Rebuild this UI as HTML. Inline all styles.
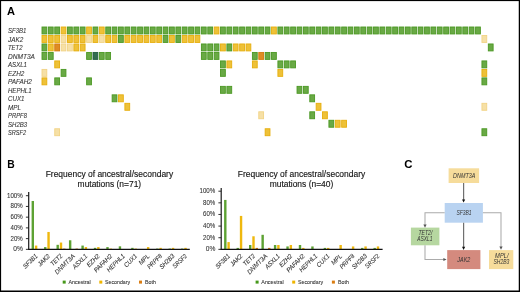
<!DOCTYPE html>
<html><head><meta charset="utf-8"><title>Figure</title>
<style>
html,body{margin:0;padding:0;background:#fff;}
body{width:520px;height:292px;overflow:hidden;}
svg{display:block;will-change:transform;font-family:"Liberation Sans", sans-serif;}
</style></head>
<body>
<svg width="520" height="292" viewBox="0 0 520 292">
<rect x="0" y="0" width="520" height="292" fill="#fff"/>
<text x="7.00" y="15.30" font-size="10.30" fill="#000" text-anchor="start" font-weight="bold" textLength="8.00" lengthAdjust="spacingAndGlyphs">A</text>
<text x="7.20" y="168.10" font-size="10.30" fill="#000" text-anchor="start" font-weight="bold">B</text>
<text x="404.30" y="168.30" font-size="11.40" fill="#000" text-anchor="start" font-weight="bold">C</text>
<text x="8.00" y="33.35" font-size="6.80" fill="#333" text-anchor="start" font-style="italic" textLength="18.40" lengthAdjust="spacingAndGlyphs" stroke="#333" stroke-width="0.08">SF3B1</text>
<text x="8.00" y="41.83" font-size="6.80" fill="#333" text-anchor="start" font-style="italic" textLength="15.20" lengthAdjust="spacingAndGlyphs" stroke="#333" stroke-width="0.08">JAK2</text>
<text x="8.00" y="50.31" font-size="6.80" fill="#333" text-anchor="start" font-style="italic" textLength="14.50" lengthAdjust="spacingAndGlyphs" stroke="#333" stroke-width="0.08">TET2</text>
<text x="8.00" y="58.79" font-size="6.80" fill="#333" text-anchor="start" font-style="italic" textLength="26.90" lengthAdjust="spacingAndGlyphs" stroke="#333" stroke-width="0.08">DNMT3A</text>
<text x="8.00" y="67.27" font-size="6.80" fill="#333" text-anchor="start" font-style="italic" textLength="19.00" lengthAdjust="spacingAndGlyphs" stroke="#333" stroke-width="0.08">ASXL1</text>
<text x="8.00" y="75.75" font-size="6.80" fill="#333" text-anchor="start" font-style="italic" textLength="16.30" lengthAdjust="spacingAndGlyphs" stroke="#333" stroke-width="0.08">EZH2</text>
<text x="8.00" y="84.23" font-size="6.80" fill="#333" text-anchor="start" font-style="italic" textLength="23.90" lengthAdjust="spacingAndGlyphs" stroke="#333" stroke-width="0.08">PAFAH2</text>
<text x="8.00" y="92.71" font-size="6.80" fill="#333" text-anchor="start" font-style="italic" textLength="23.50" lengthAdjust="spacingAndGlyphs" stroke="#333" stroke-width="0.08">HEPHL1</text>
<text x="8.00" y="101.19" font-size="6.80" fill="#333" text-anchor="start" font-style="italic" textLength="16.50" lengthAdjust="spacingAndGlyphs" stroke="#333" stroke-width="0.08">CUX1</text>
<text x="8.00" y="109.67" font-size="6.80" fill="#333" text-anchor="start" font-style="italic" textLength="12.90" lengthAdjust="spacingAndGlyphs" stroke="#333" stroke-width="0.08">MPL</text>
<text x="8.00" y="118.15" font-size="6.80" fill="#333" text-anchor="start" font-style="italic" textLength="18.90" lengthAdjust="spacingAndGlyphs" stroke="#333" stroke-width="0.08">PRPF8</text>
<text x="8.00" y="126.63" font-size="6.80" fill="#333" text-anchor="start" font-style="italic" textLength="19.20" lengthAdjust="spacingAndGlyphs" stroke="#333" stroke-width="0.08">SH2B3</text>
<text x="8.00" y="135.11" font-size="6.80" fill="#333" text-anchor="start" font-style="italic" textLength="18.20" lengthAdjust="spacingAndGlyphs" stroke="#333" stroke-width="0.08">SRSF2</text>
<g shape-rendering="geometricPrecision">
<rect x="42.00" y="27.00" width="4.80" height="6.95" fill="#69a945" stroke="#4b9823" stroke-width="0.9"/>
<rect x="48.38" y="27.00" width="4.80" height="6.95" fill="#69a945" stroke="#4b9823" stroke-width="0.9"/>
<rect x="54.75" y="27.00" width="4.80" height="6.95" fill="#69a945" stroke="#4b9823" stroke-width="0.9"/>
<rect x="61.13" y="27.00" width="4.80" height="6.95" fill="#eec138" stroke="#e6ae0c" stroke-width="0.9"/>
<rect x="67.50" y="27.00" width="4.80" height="6.95" fill="#69a945" stroke="#4b9823" stroke-width="0.9"/>
<rect x="73.88" y="27.00" width="4.80" height="6.95" fill="#69a945" stroke="#4b9823" stroke-width="0.9"/>
<rect x="80.26" y="27.00" width="4.80" height="6.95" fill="#69a945" stroke="#4b9823" stroke-width="0.9"/>
<rect x="86.63" y="27.00" width="4.80" height="6.95" fill="#eec138" stroke="#e6ae0c" stroke-width="0.9"/>
<rect x="93.01" y="27.00" width="4.80" height="6.95" fill="#69a945" stroke="#4b9823" stroke-width="0.9"/>
<rect x="99.38" y="27.00" width="4.80" height="6.95" fill="#eec138" stroke="#e6ae0c" stroke-width="0.9"/>
<rect x="105.76" y="27.00" width="4.80" height="6.95" fill="#69a945" stroke="#4b9823" stroke-width="0.9"/>
<rect x="112.14" y="27.00" width="4.80" height="6.95" fill="#69a945" stroke="#4b9823" stroke-width="0.9"/>
<rect x="118.51" y="27.00" width="4.80" height="6.95" fill="#69a945" stroke="#4b9823" stroke-width="0.9"/>
<rect x="124.89" y="27.00" width="4.80" height="6.95" fill="#69a945" stroke="#4b9823" stroke-width="0.9"/>
<rect x="131.26" y="27.00" width="4.80" height="6.95" fill="#69a945" stroke="#4b9823" stroke-width="0.9"/>
<rect x="137.64" y="27.00" width="4.80" height="6.95" fill="#69a945" stroke="#4b9823" stroke-width="0.9"/>
<rect x="144.02" y="27.00" width="4.80" height="6.95" fill="#69a945" stroke="#4b9823" stroke-width="0.9"/>
<rect x="150.39" y="27.00" width="4.80" height="6.95" fill="#69a945" stroke="#4b9823" stroke-width="0.9"/>
<rect x="156.77" y="27.00" width="4.80" height="6.95" fill="#69a945" stroke="#4b9823" stroke-width="0.9"/>
<rect x="163.14" y="27.00" width="4.80" height="6.95" fill="#69a945" stroke="#4b9823" stroke-width="0.9"/>
<rect x="169.52" y="27.00" width="4.80" height="6.95" fill="#69a945" stroke="#4b9823" stroke-width="0.9"/>
<rect x="175.90" y="27.00" width="4.80" height="6.95" fill="#69a945" stroke="#4b9823" stroke-width="0.9"/>
<rect x="182.27" y="27.00" width="4.80" height="6.95" fill="#69a945" stroke="#4b9823" stroke-width="0.9"/>
<rect x="188.65" y="27.00" width="4.80" height="6.95" fill="#69a945" stroke="#4b9823" stroke-width="0.9"/>
<rect x="195.02" y="27.00" width="4.80" height="6.95" fill="#69a945" stroke="#4b9823" stroke-width="0.9"/>
<rect x="201.40" y="27.00" width="4.80" height="6.95" fill="#69a945" stroke="#4b9823" stroke-width="0.9"/>
<rect x="207.78" y="27.00" width="4.80" height="6.95" fill="#69a945" stroke="#4b9823" stroke-width="0.9"/>
<rect x="214.15" y="27.00" width="4.80" height="6.95" fill="#eec138" stroke="#e6ae0c" stroke-width="0.9"/>
<rect x="220.53" y="27.00" width="4.80" height="6.95" fill="#69a945" stroke="#4b9823" stroke-width="0.9"/>
<rect x="226.90" y="27.00" width="4.80" height="6.95" fill="#69a945" stroke="#4b9823" stroke-width="0.9"/>
<rect x="233.28" y="27.00" width="4.80" height="6.95" fill="#69a945" stroke="#4b9823" stroke-width="0.9"/>
<rect x="239.66" y="27.00" width="4.80" height="6.95" fill="#69a945" stroke="#4b9823" stroke-width="0.9"/>
<rect x="246.03" y="27.00" width="4.80" height="6.95" fill="#69a945" stroke="#4b9823" stroke-width="0.9"/>
<rect x="252.41" y="27.00" width="4.80" height="6.95" fill="#69a945" stroke="#4b9823" stroke-width="0.9"/>
<rect x="258.78" y="27.00" width="4.80" height="6.95" fill="#69a945" stroke="#4b9823" stroke-width="0.9"/>
<rect x="265.16" y="27.00" width="4.80" height="6.95" fill="#69a945" stroke="#4b9823" stroke-width="0.9"/>
<rect x="271.54" y="27.00" width="4.80" height="6.95" fill="#eec138" stroke="#e6ae0c" stroke-width="0.9"/>
<rect x="277.91" y="27.00" width="4.80" height="6.95" fill="#69a945" stroke="#4b9823" stroke-width="0.9"/>
<rect x="284.29" y="27.00" width="4.80" height="6.95" fill="#69a945" stroke="#4b9823" stroke-width="0.9"/>
<rect x="290.66" y="27.00" width="4.80" height="6.95" fill="#69a945" stroke="#4b9823" stroke-width="0.9"/>
<rect x="297.04" y="27.00" width="4.80" height="6.95" fill="#69a945" stroke="#4b9823" stroke-width="0.9"/>
<rect x="303.42" y="27.00" width="4.80" height="6.95" fill="#69a945" stroke="#4b9823" stroke-width="0.9"/>
<rect x="309.79" y="27.00" width="4.80" height="6.95" fill="#69a945" stroke="#4b9823" stroke-width="0.9"/>
<rect x="316.17" y="27.00" width="4.80" height="6.95" fill="#69a945" stroke="#4b9823" stroke-width="0.9"/>
<rect x="322.54" y="27.00" width="4.80" height="6.95" fill="#69a945" stroke="#4b9823" stroke-width="0.9"/>
<rect x="328.92" y="27.00" width="4.80" height="6.95" fill="#69a945" stroke="#4b9823" stroke-width="0.9"/>
<rect x="335.30" y="27.00" width="4.80" height="6.95" fill="#69a945" stroke="#4b9823" stroke-width="0.9"/>
<rect x="341.67" y="27.00" width="4.80" height="6.95" fill="#69a945" stroke="#4b9823" stroke-width="0.9"/>
<rect x="348.05" y="27.00" width="4.80" height="6.95" fill="#69a945" stroke="#4b9823" stroke-width="0.9"/>
<rect x="354.42" y="27.00" width="4.80" height="6.95" fill="#69a945" stroke="#4b9823" stroke-width="0.9"/>
<rect x="360.80" y="27.00" width="4.80" height="6.95" fill="#69a945" stroke="#4b9823" stroke-width="0.9"/>
<rect x="367.18" y="27.00" width="4.80" height="6.95" fill="#69a945" stroke="#4b9823" stroke-width="0.9"/>
<rect x="373.55" y="27.00" width="4.80" height="6.95" fill="#69a945" stroke="#4b9823" stroke-width="0.9"/>
<rect x="379.93" y="27.00" width="4.80" height="6.95" fill="#69a945" stroke="#4b9823" stroke-width="0.9"/>
<rect x="386.30" y="27.00" width="4.80" height="6.95" fill="#69a945" stroke="#4b9823" stroke-width="0.9"/>
<rect x="392.68" y="27.00" width="4.80" height="6.95" fill="#69a945" stroke="#4b9823" stroke-width="0.9"/>
<rect x="399.06" y="27.00" width="4.80" height="6.95" fill="#69a945" stroke="#4b9823" stroke-width="0.9"/>
<rect x="405.43" y="27.00" width="4.80" height="6.95" fill="#69a945" stroke="#4b9823" stroke-width="0.9"/>
<rect x="411.81" y="27.00" width="4.80" height="6.95" fill="#69a945" stroke="#4b9823" stroke-width="0.9"/>
<rect x="418.18" y="27.00" width="4.80" height="6.95" fill="#69a945" stroke="#4b9823" stroke-width="0.9"/>
<rect x="424.56" y="27.00" width="4.80" height="6.95" fill="#69a945" stroke="#4b9823" stroke-width="0.9"/>
<rect x="430.94" y="27.00" width="4.80" height="6.95" fill="#69a945" stroke="#4b9823" stroke-width="0.9"/>
<rect x="437.31" y="27.00" width="4.80" height="6.95" fill="#69a945" stroke="#4b9823" stroke-width="0.9"/>
<rect x="443.69" y="27.00" width="4.80" height="6.95" fill="#69a945" stroke="#4b9823" stroke-width="0.9"/>
<rect x="450.06" y="27.00" width="4.80" height="6.95" fill="#69a945" stroke="#4b9823" stroke-width="0.9"/>
<rect x="456.44" y="27.00" width="4.80" height="6.95" fill="#69a945" stroke="#4b9823" stroke-width="0.9"/>
<rect x="462.82" y="27.00" width="4.80" height="6.95" fill="#69a945" stroke="#4b9823" stroke-width="0.9"/>
<rect x="469.19" y="27.00" width="4.80" height="6.95" fill="#69a945" stroke="#4b9823" stroke-width="0.9"/>
<rect x="475.57" y="27.00" width="4.80" height="6.95" fill="#69a945" stroke="#4b9823" stroke-width="0.9"/>
<rect x="42.00" y="35.48" width="4.80" height="6.95" fill="#eec138" stroke="#e6ae0c" stroke-width="0.9"/>
<rect x="48.38" y="35.48" width="4.80" height="6.95" fill="#eec138" stroke="#e6ae0c" stroke-width="0.9"/>
<rect x="54.75" y="35.48" width="4.80" height="6.95" fill="#eec138" stroke="#e6ae0c" stroke-width="0.9"/>
<rect x="61.13" y="35.48" width="4.80" height="6.95" fill="#f6e0a6" stroke="#f1d386" stroke-width="0.9"/>
<rect x="67.50" y="35.48" width="4.80" height="6.95" fill="#eec138" stroke="#e6ae0c" stroke-width="0.9"/>
<rect x="73.88" y="35.48" width="4.80" height="6.95" fill="#eec138" stroke="#e6ae0c" stroke-width="0.9"/>
<rect x="80.26" y="35.48" width="4.80" height="6.95" fill="#eec138" stroke="#e6ae0c" stroke-width="0.9"/>
<rect x="86.63" y="35.48" width="4.80" height="6.95" fill="#f6e0a6" stroke="#f1d386" stroke-width="0.9"/>
<rect x="93.01" y="35.48" width="4.80" height="6.95" fill="#eec138" stroke="#e6ae0c" stroke-width="0.9"/>
<rect x="99.38" y="35.48" width="4.80" height="6.95" fill="#f6e0a6" stroke="#f1d386" stroke-width="0.9"/>
<rect x="105.76" y="35.48" width="4.80" height="6.95" fill="#eec138" stroke="#e6ae0c" stroke-width="0.9"/>
<rect x="112.14" y="35.48" width="4.80" height="6.95" fill="#eec138" stroke="#e6ae0c" stroke-width="0.9"/>
<rect x="118.51" y="35.48" width="4.80" height="6.95" fill="#69a945" stroke="#4b9823" stroke-width="0.9"/>
<rect x="124.89" y="35.48" width="4.80" height="6.95" fill="#eec138" stroke="#e6ae0c" stroke-width="0.9"/>
<rect x="131.26" y="35.48" width="4.80" height="6.95" fill="#eec138" stroke="#e6ae0c" stroke-width="0.9"/>
<rect x="137.64" y="35.48" width="4.80" height="6.95" fill="#eec138" stroke="#e6ae0c" stroke-width="0.9"/>
<rect x="144.02" y="35.48" width="4.80" height="6.95" fill="#eec138" stroke="#e6ae0c" stroke-width="0.9"/>
<rect x="150.39" y="35.48" width="4.80" height="6.95" fill="#eec138" stroke="#e6ae0c" stroke-width="0.9"/>
<rect x="156.77" y="35.48" width="4.80" height="6.95" fill="#eec138" stroke="#e6ae0c" stroke-width="0.9"/>
<rect x="163.14" y="35.48" width="4.80" height="6.95" fill="#69a945" stroke="#4b9823" stroke-width="0.9"/>
<rect x="169.52" y="35.48" width="4.80" height="6.95" fill="#eec138" stroke="#e6ae0c" stroke-width="0.9"/>
<rect x="175.90" y="35.48" width="4.80" height="6.95" fill="#69a945" stroke="#4b9823" stroke-width="0.9"/>
<rect x="182.27" y="35.48" width="4.80" height="6.95" fill="#eec138" stroke="#e6ae0c" stroke-width="0.9"/>
<rect x="188.65" y="35.48" width="4.80" height="6.95" fill="#eec138" stroke="#e6ae0c" stroke-width="0.9"/>
<rect x="195.02" y="35.48" width="4.80" height="6.95" fill="#eec138" stroke="#e6ae0c" stroke-width="0.9"/>
<rect x="481.94" y="35.48" width="4.80" height="6.95" fill="#f6e0a6" stroke="#f1d386" stroke-width="0.9"/>
<rect x="42.00" y="43.96" width="4.80" height="6.95" fill="#69a945" stroke="#4b9823" stroke-width="0.9"/>
<rect x="48.38" y="43.96" width="4.80" height="6.95" fill="#eec138" stroke="#e6ae0c" stroke-width="0.9"/>
<rect x="54.75" y="43.96" width="4.80" height="6.95" fill="#df8c24" stroke="#d47a10" stroke-width="0.9"/>
<rect x="61.13" y="43.96" width="4.80" height="6.95" fill="#f6e0a6" stroke="#f1d386" stroke-width="0.9"/>
<rect x="67.50" y="43.96" width="4.80" height="6.95" fill="#f6e0a6" stroke="#f1d386" stroke-width="0.9"/>
<rect x="73.88" y="43.96" width="4.80" height="6.95" fill="#eec138" stroke="#e6ae0c" stroke-width="0.9"/>
<rect x="80.26" y="43.96" width="4.80" height="6.95" fill="#eec138" stroke="#e6ae0c" stroke-width="0.9"/>
<rect x="201.40" y="43.96" width="4.80" height="6.95" fill="#69a945" stroke="#4b9823" stroke-width="0.9"/>
<rect x="207.78" y="43.96" width="4.80" height="6.95" fill="#69a945" stroke="#4b9823" stroke-width="0.9"/>
<rect x="214.15" y="43.96" width="4.80" height="6.95" fill="#69a945" stroke="#4b9823" stroke-width="0.9"/>
<rect x="220.53" y="43.96" width="4.80" height="6.95" fill="#eec138" stroke="#e6ae0c" stroke-width="0.9"/>
<rect x="226.90" y="43.96" width="4.80" height="6.95" fill="#69a945" stroke="#4b9823" stroke-width="0.9"/>
<rect x="233.28" y="43.96" width="4.80" height="6.95" fill="#eec138" stroke="#e6ae0c" stroke-width="0.9"/>
<rect x="239.66" y="43.96" width="4.80" height="6.95" fill="#eec138" stroke="#e6ae0c" stroke-width="0.9"/>
<rect x="246.03" y="43.96" width="4.80" height="6.95" fill="#eec138" stroke="#e6ae0c" stroke-width="0.9"/>
<rect x="488.32" y="43.96" width="4.80" height="6.95" fill="#69a945" stroke="#4b9823" stroke-width="0.9"/>
<rect x="42.00" y="52.44" width="4.80" height="6.95" fill="#69a945" stroke="#4b9823" stroke-width="0.9"/>
<rect x="48.38" y="52.44" width="4.80" height="6.95" fill="#69a945" stroke="#4b9823" stroke-width="0.9"/>
<rect x="86.63" y="52.44" width="4.80" height="6.95" fill="#69a945" stroke="#4b9823" stroke-width="0.9"/>
<rect x="93.01" y="52.44" width="4.80" height="6.95" fill="#336d50" stroke="#255c40" stroke-width="0.9"/>
<rect x="99.38" y="52.44" width="4.80" height="6.95" fill="#69a945" stroke="#4b9823" stroke-width="0.9"/>
<rect x="105.76" y="52.44" width="4.80" height="6.95" fill="#69a945" stroke="#4b9823" stroke-width="0.9"/>
<rect x="201.40" y="52.44" width="4.80" height="6.95" fill="#69a945" stroke="#4b9823" stroke-width="0.9"/>
<rect x="207.78" y="52.44" width="4.80" height="6.95" fill="#69a945" stroke="#4b9823" stroke-width="0.9"/>
<rect x="214.15" y="52.44" width="4.80" height="6.95" fill="#69a945" stroke="#4b9823" stroke-width="0.9"/>
<rect x="252.41" y="52.44" width="4.80" height="6.95" fill="#69a945" stroke="#4b9823" stroke-width="0.9"/>
<rect x="258.78" y="52.44" width="4.80" height="6.95" fill="#df8c24" stroke="#d47a10" stroke-width="0.9"/>
<rect x="265.16" y="52.44" width="4.80" height="6.95" fill="#69a945" stroke="#4b9823" stroke-width="0.9"/>
<rect x="271.54" y="52.44" width="4.80" height="6.95" fill="#69a945" stroke="#4b9823" stroke-width="0.9"/>
<rect x="54.75" y="60.92" width="4.80" height="6.95" fill="#eec138" stroke="#e6ae0c" stroke-width="0.9"/>
<rect x="220.53" y="60.92" width="4.80" height="6.95" fill="#69a945" stroke="#4b9823" stroke-width="0.9"/>
<rect x="226.90" y="60.92" width="4.80" height="6.95" fill="#eec138" stroke="#e6ae0c" stroke-width="0.9"/>
<rect x="252.41" y="60.92" width="4.80" height="6.95" fill="#eec138" stroke="#e6ae0c" stroke-width="0.9"/>
<rect x="277.91" y="60.92" width="4.80" height="6.95" fill="#69a945" stroke="#4b9823" stroke-width="0.9"/>
<rect x="284.29" y="60.92" width="4.80" height="6.95" fill="#69a945" stroke="#4b9823" stroke-width="0.9"/>
<rect x="290.66" y="60.92" width="4.80" height="6.95" fill="#69a945" stroke="#4b9823" stroke-width="0.9"/>
<rect x="481.94" y="60.92" width="4.80" height="6.95" fill="#69a945" stroke="#4b9823" stroke-width="0.9"/>
<rect x="42.00" y="69.40" width="4.80" height="6.95" fill="#f6e0a6" stroke="#f1d386" stroke-width="0.9"/>
<rect x="61.13" y="69.40" width="4.80" height="6.95" fill="#69a945" stroke="#4b9823" stroke-width="0.9"/>
<rect x="220.53" y="69.40" width="4.80" height="6.95" fill="#69a945" stroke="#4b9823" stroke-width="0.9"/>
<rect x="277.91" y="69.40" width="4.80" height="6.95" fill="#eec138" stroke="#e6ae0c" stroke-width="0.9"/>
<rect x="481.94" y="69.40" width="4.80" height="6.95" fill="#eec138" stroke="#e6ae0c" stroke-width="0.9"/>
<rect x="42.00" y="77.88" width="4.80" height="6.95" fill="#eec138" stroke="#e6ae0c" stroke-width="0.9"/>
<rect x="54.75" y="77.88" width="4.80" height="6.95" fill="#69a945" stroke="#4b9823" stroke-width="0.9"/>
<rect x="86.63" y="77.88" width="4.80" height="6.95" fill="#69a945" stroke="#4b9823" stroke-width="0.9"/>
<rect x="481.94" y="77.88" width="4.80" height="6.95" fill="#69a945" stroke="#4b9823" stroke-width="0.9"/>
<rect x="220.53" y="86.36" width="4.80" height="6.95" fill="#69a945" stroke="#4b9823" stroke-width="0.9"/>
<rect x="226.90" y="86.36" width="4.80" height="6.95" fill="#69a945" stroke="#4b9823" stroke-width="0.9"/>
<rect x="297.04" y="86.36" width="4.80" height="6.95" fill="#69a945" stroke="#4b9823" stroke-width="0.9"/>
<rect x="303.42" y="86.36" width="4.80" height="6.95" fill="#69a945" stroke="#4b9823" stroke-width="0.9"/>
<rect x="112.14" y="94.84" width="4.80" height="6.95" fill="#69a945" stroke="#4b9823" stroke-width="0.9"/>
<rect x="118.51" y="94.84" width="4.80" height="6.95" fill="#eec138" stroke="#e6ae0c" stroke-width="0.9"/>
<rect x="309.79" y="94.84" width="4.80" height="6.95" fill="#69a945" stroke="#4b9823" stroke-width="0.9"/>
<rect x="124.89" y="103.32" width="4.80" height="6.95" fill="#eec138" stroke="#e6ae0c" stroke-width="0.9"/>
<rect x="316.17" y="103.32" width="4.80" height="6.95" fill="#eec138" stroke="#e6ae0c" stroke-width="0.9"/>
<rect x="481.94" y="103.32" width="4.80" height="6.95" fill="#f6e0a6" stroke="#f1d386" stroke-width="0.9"/>
<rect x="258.78" y="111.80" width="4.80" height="6.95" fill="#f6e0a6" stroke="#f1d386" stroke-width="0.9"/>
<rect x="309.79" y="111.80" width="4.80" height="6.95" fill="#69a945" stroke="#4b9823" stroke-width="0.9"/>
<rect x="322.54" y="111.80" width="4.80" height="6.95" fill="#eec138" stroke="#e6ae0c" stroke-width="0.9"/>
<rect x="328.92" y="120.28" width="4.80" height="6.95" fill="#69a945" stroke="#4b9823" stroke-width="0.9"/>
<rect x="335.30" y="120.28" width="4.80" height="6.95" fill="#eec138" stroke="#e6ae0c" stroke-width="0.9"/>
<rect x="341.67" y="120.28" width="4.80" height="6.95" fill="#eec138" stroke="#e6ae0c" stroke-width="0.9"/>
<rect x="54.75" y="128.76" width="4.80" height="6.95" fill="#f6e0a6" stroke="#f1d386" stroke-width="0.9"/>
<rect x="265.16" y="128.76" width="4.80" height="6.95" fill="#eec138" stroke="#e6ae0c" stroke-width="0.9"/>
<rect x="481.94" y="128.76" width="4.80" height="6.95" fill="#69a945" stroke="#4b9823" stroke-width="0.9"/>
</g>
<text x="109.40" y="177.30" font-size="9.00" fill="#141414" text-anchor="middle" textLength="127.50" lengthAdjust="spacingAndGlyphs" stroke="#141414" stroke-width="0.14">Frequency of ancestral/secondary</text>
<text x="109.40" y="186.80" font-size="9.00" fill="#141414" text-anchor="middle" textLength="63.60" lengthAdjust="spacingAndGlyphs" stroke="#141414" stroke-width="0.14">mutations (n=71)</text>
<rect x="31.60" y="200.99" width="2.4" height="48.36" fill="#5da233"/>
<rect x="34.90" y="245.57" width="2.4" height="3.78" fill="#efb80e"/>
<rect x="44.05" y="247.08" width="2.4" height="2.27" fill="#5da233"/>
<rect x="47.35" y="231.97" width="2.4" height="17.38" fill="#efb80e"/>
<rect x="56.50" y="244.82" width="2.4" height="4.53" fill="#5da233"/>
<rect x="59.80" y="242.55" width="2.4" height="6.80" fill="#efb80e"/>
<rect x="63.10" y="248.59" width="2.4" height="0.76" fill="#db831a"/>
<rect x="68.95" y="240.28" width="2.4" height="9.07" fill="#5da233"/>
<rect x="75.55" y="248.59" width="2.4" height="0.76" fill="#db831a"/>
<rect x="81.40" y="245.57" width="2.4" height="3.78" fill="#5da233"/>
<rect x="84.70" y="247.08" width="2.4" height="2.27" fill="#efb80e"/>
<rect x="93.85" y="247.84" width="2.4" height="1.51" fill="#5da233"/>
<rect x="97.15" y="247.08" width="2.4" height="2.27" fill="#efb80e"/>
<rect x="106.30" y="247.08" width="2.4" height="2.27" fill="#5da233"/>
<rect x="109.60" y="248.59" width="2.4" height="0.76" fill="#efb80e"/>
<rect x="118.75" y="246.33" width="2.4" height="3.02" fill="#5da233"/>
<rect x="131.20" y="247.84" width="2.4" height="1.51" fill="#5da233"/>
<rect x="134.50" y="248.59" width="2.4" height="0.76" fill="#efb80e"/>
<rect x="146.95" y="247.08" width="2.4" height="2.27" fill="#efb80e"/>
<rect x="156.10" y="248.59" width="2.4" height="0.76" fill="#5da233"/>
<rect x="159.40" y="247.84" width="2.4" height="1.51" fill="#efb80e"/>
<rect x="168.55" y="248.59" width="2.4" height="0.76" fill="#5da233"/>
<rect x="171.85" y="247.84" width="2.4" height="1.51" fill="#efb80e"/>
<rect x="181.00" y="248.59" width="2.4" height="0.76" fill="#5da233"/>
<rect x="184.30" y="247.84" width="2.4" height="1.51" fill="#efb80e"/>
<line x1="28.70" y1="192.10" x2="28.70" y2="249.85" stroke="#1a1a1a" stroke-width="1.2"/>
<line x1="25.90" y1="249.35" x2="28.70" y2="249.35" stroke="#1a1a1a" stroke-width="0.9"/>
<text x="22.80" y="251.30" font-size="6.40" fill="#333" text-anchor="end" textLength="9.60" lengthAdjust="spacingAndGlyphs" stroke="#333" stroke-width="0.08">0%</text>
<line x1="25.90" y1="238.62" x2="28.70" y2="238.62" stroke="#1a1a1a" stroke-width="0.9"/>
<text x="22.80" y="240.57" font-size="6.40" fill="#333" text-anchor="end" textLength="12.20" lengthAdjust="spacingAndGlyphs" stroke="#333" stroke-width="0.08">20%</text>
<line x1="25.90" y1="227.89" x2="28.70" y2="227.89" stroke="#1a1a1a" stroke-width="0.9"/>
<text x="22.80" y="229.84" font-size="6.40" fill="#333" text-anchor="end" textLength="12.20" lengthAdjust="spacingAndGlyphs" stroke="#333" stroke-width="0.08">40%</text>
<line x1="25.90" y1="217.16" x2="28.70" y2="217.16" stroke="#1a1a1a" stroke-width="0.9"/>
<text x="22.80" y="219.11" font-size="6.40" fill="#333" text-anchor="end" textLength="12.20" lengthAdjust="spacingAndGlyphs" stroke="#333" stroke-width="0.08">60%</text>
<line x1="25.90" y1="206.43" x2="28.70" y2="206.43" stroke="#1a1a1a" stroke-width="0.9"/>
<text x="22.80" y="208.38" font-size="6.40" fill="#333" text-anchor="end" textLength="12.20" lengthAdjust="spacingAndGlyphs" stroke="#333" stroke-width="0.08">80%</text>
<line x1="25.90" y1="195.70" x2="28.70" y2="195.70" stroke="#1a1a1a" stroke-width="0.9"/>
<text x="22.80" y="197.65" font-size="6.40" fill="#333" text-anchor="end" textLength="15.80" lengthAdjust="spacingAndGlyphs" stroke="#333" stroke-width="0.08">100%</text>
<line x1="28.20" y1="249.35" x2="189.80" y2="249.35" stroke="#111" stroke-width="1.15"/>
<text x="0" y="0" font-size="6.5" fill="#333" stroke="#333" stroke-width="0.08" font-style="italic" text-anchor="end" textLength="17.59" lengthAdjust="spacingAndGlyphs" transform="translate(38.00 256.55) rotate(-45)">SF3B1</text>
<text x="0" y="0" font-size="6.5" fill="#333" stroke="#333" stroke-width="0.08" font-style="italic" text-anchor="end" textLength="14.53" lengthAdjust="spacingAndGlyphs" transform="translate(50.45 256.55) rotate(-45)">JAK2</text>
<text x="0" y="0" font-size="6.5" fill="#333" stroke="#333" stroke-width="0.08" font-style="italic" text-anchor="end" textLength="13.86" lengthAdjust="spacingAndGlyphs" transform="translate(62.90 256.55) rotate(-45)">TET2</text>
<text x="0" y="0" font-size="6.5" fill="#333" stroke="#333" stroke-width="0.08" font-style="italic" text-anchor="end" textLength="25.71" lengthAdjust="spacingAndGlyphs" transform="translate(75.35 256.55) rotate(-45)">DNMT3A</text>
<text x="0" y="0" font-size="6.5" fill="#333" stroke="#333" stroke-width="0.08" font-style="italic" text-anchor="end" textLength="18.16" lengthAdjust="spacingAndGlyphs" transform="translate(87.80 256.55) rotate(-45)">ASXL1</text>
<text x="0" y="0" font-size="6.5" fill="#333" stroke="#333" stroke-width="0.08" font-style="italic" text-anchor="end" textLength="15.58" lengthAdjust="spacingAndGlyphs" transform="translate(100.25 256.55) rotate(-45)">EZH2</text>
<text x="0" y="0" font-size="6.5" fill="#333" stroke="#333" stroke-width="0.08" font-style="italic" text-anchor="end" textLength="22.85" lengthAdjust="spacingAndGlyphs" transform="translate(112.70 256.55) rotate(-45)">PAFAH2</text>
<text x="0" y="0" font-size="6.5" fill="#333" stroke="#333" stroke-width="0.08" font-style="italic" text-anchor="end" textLength="22.46" lengthAdjust="spacingAndGlyphs" transform="translate(125.15 256.55) rotate(-45)">HEPHL1</text>
<text x="0" y="0" font-size="6.5" fill="#333" stroke="#333" stroke-width="0.08" font-style="italic" text-anchor="end" textLength="15.77" lengthAdjust="spacingAndGlyphs" transform="translate(137.60 256.55) rotate(-45)">CUX1</text>
<text x="0" y="0" font-size="6.5" fill="#333" stroke="#333" stroke-width="0.08" font-style="italic" text-anchor="end" textLength="12.33" lengthAdjust="spacingAndGlyphs" transform="translate(150.05 256.55) rotate(-45)">MPL</text>
<text x="0" y="0" font-size="6.5" fill="#333" stroke="#333" stroke-width="0.08" font-style="italic" text-anchor="end" textLength="18.07" lengthAdjust="spacingAndGlyphs" transform="translate(162.50 256.55) rotate(-45)">PRPF8</text>
<text x="0" y="0" font-size="6.5" fill="#333" stroke="#333" stroke-width="0.08" font-style="italic" text-anchor="end" textLength="18.35" lengthAdjust="spacingAndGlyphs" transform="translate(174.95 256.55) rotate(-45)">SH2B3</text>
<text x="0" y="0" font-size="6.5" fill="#333" stroke="#333" stroke-width="0.08" font-style="italic" text-anchor="end" textLength="17.40" lengthAdjust="spacingAndGlyphs" transform="translate(187.40 256.55) rotate(-45)">SRSF2</text>
<text x="301.50" y="177.30" font-size="9.00" fill="#141414" text-anchor="middle" textLength="127.50" lengthAdjust="spacingAndGlyphs" stroke="#141414" stroke-width="0.14">Frequency of ancestral/secondary</text>
<text x="301.50" y="186.80" font-size="9.00" fill="#141414" text-anchor="middle" textLength="63.60" lengthAdjust="spacingAndGlyphs" stroke="#141414" stroke-width="0.14">mutations (n=40)</text>
<rect x="224.10" y="199.92" width="2.4" height="49.43" fill="#5da233"/>
<rect x="227.40" y="242.08" width="2.4" height="7.27" fill="#efb80e"/>
<rect x="236.55" y="247.90" width="2.4" height="1.45" fill="#5da233"/>
<rect x="239.85" y="215.91" width="2.4" height="33.44" fill="#efb80e"/>
<rect x="249.00" y="244.99" width="2.4" height="4.36" fill="#5da233"/>
<rect x="252.30" y="236.27" width="2.4" height="13.08" fill="#efb80e"/>
<rect x="255.60" y="247.90" width="2.4" height="1.45" fill="#db831a"/>
<rect x="261.45" y="234.81" width="2.4" height="14.54" fill="#5da233"/>
<rect x="268.05" y="247.90" width="2.4" height="1.45" fill="#db831a"/>
<rect x="273.90" y="244.99" width="2.4" height="4.36" fill="#5da233"/>
<rect x="277.20" y="244.99" width="2.4" height="4.36" fill="#efb80e"/>
<rect x="286.35" y="246.44" width="2.4" height="2.91" fill="#5da233"/>
<rect x="289.65" y="244.99" width="2.4" height="4.36" fill="#efb80e"/>
<rect x="298.80" y="244.99" width="2.4" height="4.36" fill="#5da233"/>
<rect x="302.10" y="247.90" width="2.4" height="1.45" fill="#efb80e"/>
<rect x="311.25" y="246.44" width="2.4" height="2.91" fill="#5da233"/>
<rect x="323.70" y="247.90" width="2.4" height="1.45" fill="#5da233"/>
<rect x="327.00" y="247.90" width="2.4" height="1.45" fill="#efb80e"/>
<rect x="339.45" y="244.99" width="2.4" height="4.36" fill="#efb80e"/>
<rect x="351.90" y="246.44" width="2.4" height="2.91" fill="#efb80e"/>
<rect x="361.05" y="247.90" width="2.4" height="1.45" fill="#5da233"/>
<rect x="364.35" y="246.44" width="2.4" height="2.91" fill="#efb80e"/>
<rect x="373.50" y="247.90" width="2.4" height="1.45" fill="#5da233"/>
<rect x="376.80" y="246.44" width="2.4" height="2.91" fill="#efb80e"/>
<line x1="221.20" y1="188.00" x2="221.20" y2="249.85" stroke="#1a1a1a" stroke-width="1.2"/>
<line x1="218.40" y1="249.35" x2="221.20" y2="249.35" stroke="#1a1a1a" stroke-width="0.9"/>
<text x="215.30" y="251.30" font-size="6.40" fill="#333" text-anchor="end" textLength="9.60" lengthAdjust="spacingAndGlyphs" stroke="#333" stroke-width="0.08">0%</text>
<line x1="218.40" y1="237.72" x2="221.20" y2="237.72" stroke="#1a1a1a" stroke-width="0.9"/>
<text x="215.30" y="239.67" font-size="6.40" fill="#333" text-anchor="end" textLength="12.20" lengthAdjust="spacingAndGlyphs" stroke="#333" stroke-width="0.08">20%</text>
<line x1="218.40" y1="226.09" x2="221.20" y2="226.09" stroke="#1a1a1a" stroke-width="0.9"/>
<text x="215.30" y="228.04" font-size="6.40" fill="#333" text-anchor="end" textLength="12.20" lengthAdjust="spacingAndGlyphs" stroke="#333" stroke-width="0.08">40%</text>
<line x1="218.40" y1="214.46" x2="221.20" y2="214.46" stroke="#1a1a1a" stroke-width="0.9"/>
<text x="215.30" y="216.41" font-size="6.40" fill="#333" text-anchor="end" textLength="12.20" lengthAdjust="spacingAndGlyphs" stroke="#333" stroke-width="0.08">60%</text>
<line x1="218.40" y1="202.83" x2="221.20" y2="202.83" stroke="#1a1a1a" stroke-width="0.9"/>
<text x="215.30" y="204.78" font-size="6.40" fill="#333" text-anchor="end" textLength="12.20" lengthAdjust="spacingAndGlyphs" stroke="#333" stroke-width="0.08">80%</text>
<line x1="218.40" y1="191.20" x2="221.20" y2="191.20" stroke="#1a1a1a" stroke-width="0.9"/>
<text x="215.30" y="193.15" font-size="6.40" fill="#333" text-anchor="end" textLength="15.80" lengthAdjust="spacingAndGlyphs" stroke="#333" stroke-width="0.08">100%</text>
<line x1="220.70" y1="249.35" x2="382.60" y2="249.35" stroke="#111" stroke-width="1.15"/>
<text x="0" y="0" font-size="6.5" fill="#333" stroke="#333" stroke-width="0.08" font-style="italic" text-anchor="end" textLength="17.59" lengthAdjust="spacingAndGlyphs" transform="translate(230.50 256.55) rotate(-45)">SF3B1</text>
<text x="0" y="0" font-size="6.5" fill="#333" stroke="#333" stroke-width="0.08" font-style="italic" text-anchor="end" textLength="14.53" lengthAdjust="spacingAndGlyphs" transform="translate(242.95 256.55) rotate(-45)">JAK2</text>
<text x="0" y="0" font-size="6.5" fill="#333" stroke="#333" stroke-width="0.08" font-style="italic" text-anchor="end" textLength="13.86" lengthAdjust="spacingAndGlyphs" transform="translate(255.40 256.55) rotate(-45)">TET2</text>
<text x="0" y="0" font-size="6.5" fill="#333" stroke="#333" stroke-width="0.08" font-style="italic" text-anchor="end" textLength="25.71" lengthAdjust="spacingAndGlyphs" transform="translate(267.85 256.55) rotate(-45)">DNMT3A</text>
<text x="0" y="0" font-size="6.5" fill="#333" stroke="#333" stroke-width="0.08" font-style="italic" text-anchor="end" textLength="18.16" lengthAdjust="spacingAndGlyphs" transform="translate(280.30 256.55) rotate(-45)">ASXL1</text>
<text x="0" y="0" font-size="6.5" fill="#333" stroke="#333" stroke-width="0.08" font-style="italic" text-anchor="end" textLength="15.58" lengthAdjust="spacingAndGlyphs" transform="translate(292.75 256.55) rotate(-45)">EZH2</text>
<text x="0" y="0" font-size="6.5" fill="#333" stroke="#333" stroke-width="0.08" font-style="italic" text-anchor="end" textLength="22.85" lengthAdjust="spacingAndGlyphs" transform="translate(305.20 256.55) rotate(-45)">PAFAH2</text>
<text x="0" y="0" font-size="6.5" fill="#333" stroke="#333" stroke-width="0.08" font-style="italic" text-anchor="end" textLength="22.46" lengthAdjust="spacingAndGlyphs" transform="translate(317.65 256.55) rotate(-45)">HEPHL1</text>
<text x="0" y="0" font-size="6.5" fill="#333" stroke="#333" stroke-width="0.08" font-style="italic" text-anchor="end" textLength="15.77" lengthAdjust="spacingAndGlyphs" transform="translate(330.10 256.55) rotate(-45)">CUX1</text>
<text x="0" y="0" font-size="6.5" fill="#333" stroke="#333" stroke-width="0.08" font-style="italic" text-anchor="end" textLength="12.33" lengthAdjust="spacingAndGlyphs" transform="translate(342.55 256.55) rotate(-45)">MPL</text>
<text x="0" y="0" font-size="6.5" fill="#333" stroke="#333" stroke-width="0.08" font-style="italic" text-anchor="end" textLength="18.07" lengthAdjust="spacingAndGlyphs" transform="translate(355.00 256.55) rotate(-45)">PRPF8</text>
<text x="0" y="0" font-size="6.5" fill="#333" stroke="#333" stroke-width="0.08" font-style="italic" text-anchor="end" textLength="18.35" lengthAdjust="spacingAndGlyphs" transform="translate(367.45 256.55) rotate(-45)">SH2B3</text>
<text x="0" y="0" font-size="6.5" fill="#333" stroke="#333" stroke-width="0.08" font-style="italic" text-anchor="end" textLength="17.40" lengthAdjust="spacingAndGlyphs" transform="translate(379.90 256.55) rotate(-45)">SRSF2</text>
<rect x="62.70" y="280.6" width="3.0" height="3.0" fill="#46981a"/>
<text x="68.40" y="283.80" font-size="5.70" fill="#333" text-anchor="start" textLength="22.40" lengthAdjust="spacingAndGlyphs" stroke="#333" stroke-width="0.08">Ancestral</text>
<rect x="99.30" y="280.6" width="3.0" height="3.0" fill="#efb500"/>
<text x="105.10" y="283.80" font-size="5.70" fill="#333" text-anchor="start" textLength="25.00" lengthAdjust="spacingAndGlyphs" stroke="#333" stroke-width="0.08">Secondary</text>
<rect x="139.00" y="280.6" width="3.0" height="3.0" fill="#da7d12"/>
<text x="145.00" y="283.80" font-size="5.70" fill="#333" text-anchor="start" textLength="11.00" lengthAdjust="spacingAndGlyphs" stroke="#333" stroke-width="0.08">Both</text>
<rect x="255.60" y="280.6" width="3.0" height="3.0" fill="#46981a"/>
<text x="261.30" y="283.80" font-size="5.70" fill="#333" text-anchor="start" textLength="22.40" lengthAdjust="spacingAndGlyphs" stroke="#333" stroke-width="0.08">Ancestral</text>
<rect x="292.20" y="280.6" width="3.0" height="3.0" fill="#efb500"/>
<text x="298.00" y="283.80" font-size="5.70" fill="#333" text-anchor="start" textLength="25.00" lengthAdjust="spacingAndGlyphs" stroke="#333" stroke-width="0.08">Secondary</text>
<rect x="331.90" y="280.6" width="3.0" height="3.0" fill="#da7d12"/>
<text x="337.90" y="283.80" font-size="5.70" fill="#333" text-anchor="start" textLength="11.00" lengthAdjust="spacingAndGlyphs" stroke="#333" stroke-width="0.08">Both</text>
<rect x="448.60" y="168.30" width="30.50" height="14.70" fill="#f6dc9b"/>
<rect x="444.70" y="203.00" width="38.20" height="19.70" fill="#b9d3f1"/>
<rect x="410.90" y="227.60" width="28.50" height="17.70" fill="#b6d7a0"/>
<rect x="447.20" y="250.10" width="33.20" height="19.00" fill="#d48a7e"/>
<rect x="489.00" y="250.10" width="24.30" height="19.00" fill="#f6dc9b"/>
<polyline points="444.7,212.8 425.0,212.8 425.0,225.0" fill="none" stroke="#ababab" stroke-width="1.05"/>
<polyline points="482.9,212.8 501.0,212.8 501.0,247.5" fill="none" stroke="#ababab" stroke-width="1.05"/>
<polyline points="425.0,245.3 425.0,259.5 444.5,259.5" fill="none" stroke="#ababab" stroke-width="1.05"/>
<line x1="463.6" y1="183.0" x2="463.6" y2="200.5" stroke="#707070" stroke-width="1.2"/>
<line x1="463.6" y1="222.7" x2="463.6" y2="248.0" stroke="#707070" stroke-width="1.2"/>
<polygon points="462.00,199.40 465.20,199.40 463.60,202.60" fill="#111"/>
<polygon points="462.00,246.80 465.20,246.80 463.60,250.00" fill="#111"/>
<polygon points="423.40,224.50 426.60,224.50 425.00,227.70" fill="#555"/>
<polygon points="499.40,246.60 502.60,246.60 501.00,249.80" fill="#555"/>
<polygon points="443.40,257.90 443.40,261.10 446.60,259.50" fill="#555"/>
<text x="464.20" y="177.60" font-size="6.60" fill="#333" text-anchor="middle" font-style="italic" textLength="22.20" lengthAdjust="spacingAndGlyphs" stroke="#333" stroke-width="0.00">DNMT3A</text>
<text x="463.90" y="215.00" font-size="6.70" fill="#333" text-anchor="middle" font-style="italic" textLength="15.00" lengthAdjust="spacingAndGlyphs" stroke="#333" stroke-width="0.00">SF3B1</text>
<text x="425.40" y="234.80" font-size="6.60" fill="#333" text-anchor="middle" font-style="italic" textLength="13.90" lengthAdjust="spacingAndGlyphs" stroke="#333" stroke-width="0.00">TET2/</text>
<text x="424.80" y="240.80" font-size="6.60" fill="#333" text-anchor="middle" font-style="italic" textLength="15.20" lengthAdjust="spacingAndGlyphs" stroke="#333" stroke-width="0.00">ASXL1</text>
<text x="463.80" y="261.60" font-size="6.60" fill="#333" text-anchor="middle" font-style="italic" textLength="12.90" lengthAdjust="spacingAndGlyphs" stroke="#333" stroke-width="0.00">JAK2</text>
<text x="501.80" y="258.00" font-size="6.60" fill="#333" text-anchor="middle" font-style="italic" textLength="13.40" lengthAdjust="spacingAndGlyphs" stroke="#333" stroke-width="0.00">MPL/</text>
<text x="501.40" y="264.10" font-size="6.60" fill="#333" text-anchor="middle" font-style="italic" textLength="15.80" lengthAdjust="spacingAndGlyphs" stroke="#333" stroke-width="0.00">SH2B3</text>
<rect x="0" y="0" width="520" height="1.1" fill="#000"/>
<rect x="0" y="0" width="1.1" height="292" fill="#000"/>
<rect x="518.75" y="0" width="1.25" height="292" fill="#000"/>
<rect x="0" y="290.5" width="520" height="1.5" fill="#000"/>
</svg>
</body></html>
